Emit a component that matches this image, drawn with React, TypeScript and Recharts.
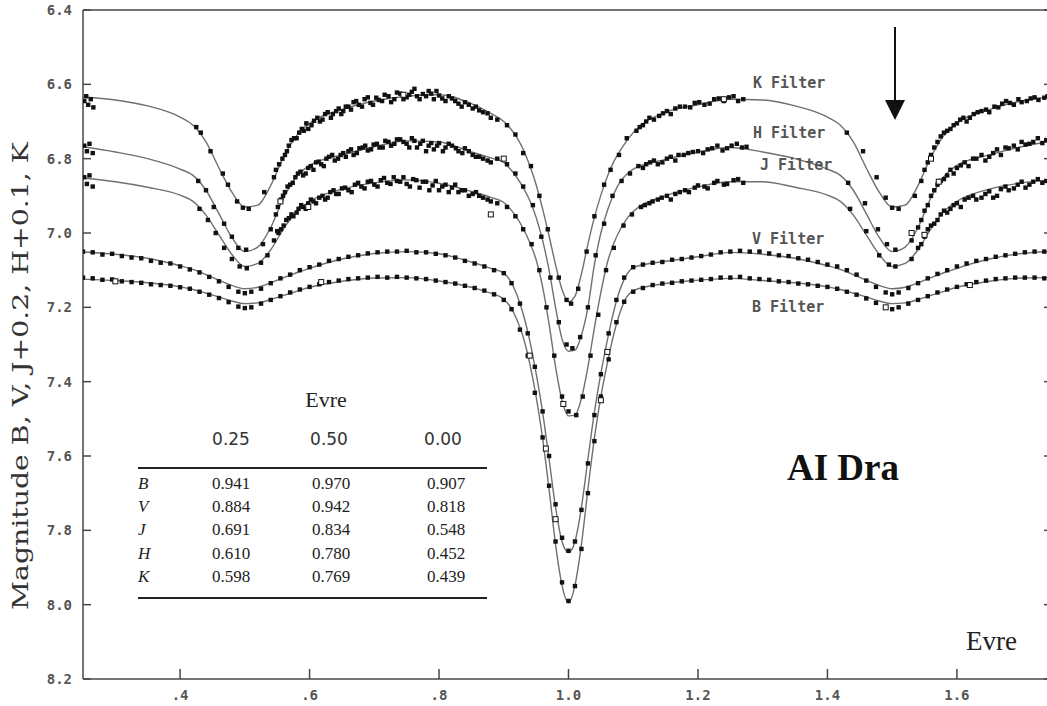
import React from 'react';
import { ComposedChart, Line, Scatter, XAxis, YAxis } from 'recharts';

// ---- axis ticks ----
const xTicks = [0.4, 0.6, 0.8, 1.0, 1.2, 1.4, 1.6];
const xTickLabels = ['.4', '.6', '.8', '1.0', '1.2', '1.4', '1.6'];
const yTicks = [6.4, 6.6, 6.8, 7.0, 7.2, 7.4, 7.6, 7.8, 8.0, 8.2];
const yTickLabels = ['6.4', '6.6', '6.8', '7.0', '7.2', '7.4', '7.6', '7.8', '8.0', '8.2'];

// ---- model light curves (phase grid + magnitude per filter) ----
const phaseGrid = [
  0.25, 0.30, 0.35, 0.40, 0.42, 0.44, 0.46, 0.48, 0.50, 0.52, 0.54, 0.56, 0.58, 0.60,
  0.65, 0.70, 0.75, 0.80, 0.85, 0.88,
  0.90, 0.91, 0.92, 0.93, 0.94, 0.95, 0.96, 0.97, 0.98, 0.99, 1.00,
  1.01, 1.02, 1.03, 1.04, 1.05, 1.06, 1.07, 1.08, 1.09, 1.10,
  1.15, 1.20, 1.25, 1.30, 1.35, 1.40,
  1.42, 1.44, 1.46, 1.48, 1.50, 1.52, 1.54, 1.56, 1.58, 1.60, 1.65, 1.70, 1.75,
];

const kModel = [
  6.634, 6.642, 6.658, 6.688, 6.71, 6.755, 6.825, 6.89, 6.93, 6.925, 6.872, 6.795, 6.738, 6.705,
  6.668, 6.645, 6.632, 6.628, 6.652, 6.678,
  6.70, 6.718, 6.742, 6.775, 6.818, 6.87, 6.935, 7.008, 7.085, 7.152, 7.185,
  7.17, 7.11, 7.03, 6.958, 6.898, 6.848, 6.808, 6.778, 6.752, 6.73,
  6.675, 6.655, 6.64, 6.642, 6.658, 6.688,
  6.71, 6.755, 6.825, 6.89, 6.93, 6.925, 6.872, 6.795, 6.738, 6.705, 6.668, 6.645, 6.632,
];

const hModel = [
  6.768, 6.782, 6.80, 6.828, 6.845, 6.885, 6.948, 7.012, 7.05, 7.038, 6.985, 6.905, 6.848, 6.818,
  6.79, 6.768, 6.752, 6.755, 6.782, 6.798,
  6.81, 6.828, 6.85, 6.878, 6.912, 6.958, 7.02, 7.10, 7.20, 7.285, 7.318,
  7.315, 7.275, 7.20, 7.085, 7.00, 6.94, 6.895, 6.862, 6.842, 6.828,
  6.802, 6.782, 6.77, 6.782, 6.80, 6.828,
  6.845, 6.885, 6.948, 7.012, 7.05, 7.038, 6.985, 6.905, 6.848, 6.818, 6.79, 6.768, 6.752,
];

const jModel = [
  6.852, 6.862, 6.877, 6.898, 6.915, 6.952, 7.005, 7.058, 7.09, 7.082, 7.045, 6.988, 6.942, 6.915,
  6.882, 6.865, 6.857, 6.866, 6.888, 6.904,
  6.918, 6.935, 6.958, 6.988, 7.025, 7.072, 7.145, 7.245, 7.36, 7.45, 7.492,
  7.49, 7.445, 7.36, 7.255, 7.16, 7.08, 7.028, 6.99, 6.962, 6.942,
  6.90, 6.876, 6.862, 6.862, 6.877, 6.898,
  6.915, 6.952, 7.005, 7.058, 7.09, 7.082, 7.045, 6.988, 6.942, 6.915, 6.882, 6.865, 6.857,
];

const vModel = [
  7.051, 7.057, 7.068, 7.088, 7.098, 7.112, 7.127, 7.141, 7.15, 7.146, 7.134, 7.12, 7.107, 7.095,
  7.07, 7.055, 7.05, 7.056, 7.078, 7.095,
  7.108, 7.128, 7.165, 7.218, 7.288, 7.378, 7.482, 7.608, 7.738, 7.83, 7.86,
  7.83, 7.738, 7.608, 7.482, 7.378, 7.288, 7.21, 7.15, 7.112, 7.093,
  7.076, 7.064, 7.052, 7.057, 7.068, 7.088,
  7.098, 7.112, 7.127, 7.141, 7.15, 7.146, 7.134, 7.12, 7.107, 7.095, 7.07, 7.055, 7.05,
];

const bModel = [
  7.124, 7.128, 7.134, 7.145, 7.152, 7.162, 7.172, 7.183, 7.19, 7.188, 7.179, 7.168, 7.157, 7.146,
  7.13, 7.121, 7.12, 7.129, 7.146, 7.162,
  7.178, 7.198, 7.232, 7.28, 7.35, 7.44, 7.552, 7.69, 7.838, 7.948, 7.995,
  7.948, 7.838, 7.69, 7.552, 7.44, 7.35, 7.272, 7.212, 7.172, 7.155,
  7.136, 7.127, 7.122, 7.128, 7.134, 7.145,
  7.152, 7.162, 7.172, 7.183, 7.19, 7.188, 7.179, 7.168, 7.157, 7.146, 7.13, 7.121, 7.12,
];

// ---- observations [phase, magnitude] ----
const kObs = [
  [0.252, 6.645], [0.255, 6.632], [0.258, 6.655], [0.262, 6.64], [0.266, 6.662],
  [0.425, 6.715], [0.432, 6.73], [0.447, 6.78], [0.466, 6.84], [0.474, 6.87], [0.488, 6.915], [0.497, 6.932], [0.506, 6.935],
  [0.53, 6.89], [0.545, 6.85], [0.553, 6.815], [0.565, 6.78], [0.572, 6.75], [0.58, 6.745], [0.588, 6.72], [0.595, 6.705],
  [0.603, 6.71], [0.612, 6.69], [0.62, 6.695], [0.628, 6.675], [0.636, 6.68], [0.645, 6.665], [0.652, 6.672], [0.66, 6.66],
  [0.668, 6.648], [0.676, 6.655], [0.685, 6.64], [0.694, 6.65], [0.703, 6.636], [0.712, 6.645], [0.722, 6.632], [0.731, 6.64],
  [0.74, 6.625], [0.75, 6.635], [0.758, 6.62], [0.766, 6.632], [0.775, 6.626], [0.784, 6.618], [0.792, 6.64], [0.80, 6.63],
  [0.81, 6.645], [0.82, 6.638], [0.83, 6.652], [0.84, 6.648], [0.852, 6.665], [0.862, 6.67], [0.875, 6.678],
  [0.905, 6.71], [0.918, 6.735], [0.93, 6.785], [0.942, 6.82], [0.955, 6.9], [0.968, 6.99], [0.985, 7.12], [0.997, 7.18],
  [1.004, 7.19], [1.015, 7.15], [1.028, 7.05], [1.04, 6.955], [1.055, 6.87], [1.065, 6.83], [1.078, 6.79], [1.09, 6.745],
  [1.105, 6.725], [1.115, 6.71], [1.125, 6.69], [1.14, 6.685], [1.152, 6.672], [1.165, 6.665], [1.18, 6.66], [1.195, 6.65],
  [1.21, 6.655], [1.225, 6.64], [1.24, 6.645], [1.255, 6.632], [1.27, 6.64],
  [1.43, 6.73], [1.455, 6.78], [1.476, 6.85], [1.49, 6.905], [1.5, 6.932], [1.51, 6.935],
  [1.535, 6.9], [1.545, 6.86], [1.555, 6.81], [1.565, 6.77], [1.575, 6.74], [1.585, 6.725], [1.595, 6.71], [1.61, 6.69],
  [1.62, 6.69], [1.632, 6.675], [1.645, 6.668], [1.658, 6.66], [1.67, 6.652], [1.682, 6.65], [1.695, 6.64], [1.708, 6.645],
  [1.72, 6.635], [1.735, 6.636],
];
const kObsDense = [
  [0.548, 6.83], [0.558, 6.80], [0.562, 6.79], [0.568, 6.765], [0.576, 6.745], [0.584, 6.73], [0.591, 6.725], [0.598, 6.72],
  [0.607, 6.698], [0.616, 6.70], [0.624, 6.68], [0.633, 6.69], [0.641, 6.672], [0.649, 6.68], [0.656, 6.66], [0.664, 6.668],
  [0.672, 6.645], [0.681, 6.66], [0.69, 6.635], [0.698, 6.655], [0.707, 6.642], [0.716, 6.628], [0.726, 6.648], [0.735, 6.622],
  [0.745, 6.64], [0.754, 6.628], [0.762, 6.612], [0.77, 6.64], [0.78, 6.632], [0.788, 6.625], [0.796, 6.618], [0.805, 6.638],
  [0.815, 6.632], [0.825, 6.645], [0.835, 6.66], [0.846, 6.655], [0.857, 6.66], [0.868, 6.675], [0.88, 6.69], [0.89, 6.695],
  [1.11, 6.715], [1.12, 6.70], [1.132, 6.695], [1.146, 6.678], [1.158, 6.68], [1.172, 6.66], [1.188, 6.662], [1.202, 6.648],
  [1.218, 6.652], [1.232, 6.638], [1.248, 6.635], [1.262, 6.645],
  [1.55, 6.83], [1.56, 6.79], [1.57, 6.755], [1.58, 6.73], [1.59, 6.72], [1.60, 6.705], [1.605, 6.695], [1.615, 6.70],
  [1.626, 6.68], [1.638, 6.672], [1.65, 6.675], [1.664, 6.662], [1.676, 6.645], [1.688, 6.655], [1.70, 6.648], [1.714, 6.638],
  [1.726, 6.642], [1.74, 6.632],
];

const hObs = [
  [0.252, 6.765], [0.256, 6.78], [0.26, 6.76], [0.265, 6.785],
  [0.428, 6.86], [0.44, 6.885], [0.452, 6.93], [0.468, 6.975], [0.48, 7.01], [0.49, 7.04], [0.502, 7.045],
  [0.528, 7.03], [0.54, 6.99], [0.548, 6.95], [0.556, 6.91], [0.562, 6.89], [0.57, 6.87], [0.578, 6.85], [0.586, 6.835],
  [0.594, 6.84], [0.602, 6.82], [0.61, 6.81], [0.618, 6.815], [0.626, 6.80], [0.635, 6.79], [0.644, 6.80], [0.652, 6.785],
  [0.66, 6.78], [0.668, 6.79], [0.677, 6.772], [0.686, 6.765], [0.695, 6.775], [0.704, 6.76], [0.713, 6.77], [0.722, 6.755],
  [0.731, 6.76], [0.74, 6.748], [0.75, 6.76], [0.758, 6.745], [0.766, 6.77], [0.775, 6.752], [0.784, 6.765], [0.792, 6.775],
  [0.80, 6.758], [0.81, 6.77], [0.82, 6.765], [0.83, 6.78], [0.84, 6.772], [0.852, 6.79], [0.862, 6.795], [0.875, 6.805],
  [0.905, 6.815], [0.918, 6.84], [0.93, 6.875], [0.945, 6.925], [0.958, 7.01], [0.972, 7.12], [0.985, 7.24], [0.997, 7.30],
  [1.006, 7.31], [1.018, 7.28], [1.03, 7.20], [1.042, 7.06], [1.055, 6.975], [1.068, 6.90], [1.082, 6.86], [1.095, 6.84],
  [1.108, 6.82], [1.12, 6.815], [1.132, 6.805], [1.145, 6.81], [1.158, 6.795], [1.17, 6.79], [1.185, 6.785], [1.20, 6.78],
  [1.215, 6.775], [1.23, 6.765], [1.245, 6.772], [1.26, 6.76], [1.275, 6.768],
  [1.432, 6.865], [1.458, 6.92], [1.478, 6.99], [1.492, 7.03], [1.505, 7.045],
  [1.53, 7.02], [1.54, 6.985], [1.55, 6.94], [1.56, 6.90], [1.57, 6.87], [1.58, 6.855], [1.59, 6.83], [1.60, 6.825],
  [1.612, 6.81], [1.625, 6.80], [1.638, 6.79], [1.65, 6.795], [1.662, 6.775], [1.675, 6.77], [1.688, 6.765], [1.70, 6.755],
  [1.712, 6.76], [1.725, 6.745], [1.738, 6.75],
];
const hObsDense = [
  [0.551, 6.93], [0.559, 6.90], [0.566, 6.875], [0.574, 6.865], [0.582, 6.84], [0.59, 6.845], [0.598, 6.825], [0.606, 6.83],
  [0.614, 6.808], [0.622, 6.82], [0.63, 6.795], [0.639, 6.805], [0.648, 6.79], [0.656, 6.795], [0.664, 6.775], [0.673, 6.785],
  [0.682, 6.77], [0.69, 6.778], [0.699, 6.762], [0.708, 6.77], [0.717, 6.752], [0.726, 6.765], [0.735, 6.748], [0.745, 6.755],
  [0.754, 6.77], [0.762, 6.752], [0.771, 6.76], [0.78, 6.78], [0.788, 6.758], [0.797, 6.765], [0.806, 6.78], [0.815, 6.76],
  [0.826, 6.772], [0.836, 6.785], [0.846, 6.78], [0.857, 6.795], [0.868, 6.80], [0.88, 6.81], [0.89, 6.80],
  [1.115, 6.825], [1.126, 6.81], [1.138, 6.815], [1.152, 6.80], [1.165, 6.805], [1.178, 6.79], [1.192, 6.782], [1.208, 6.785],
  [1.222, 6.772], [1.238, 6.778], [1.252, 6.765], [1.268, 6.77],
  [1.545, 6.965], [1.555, 6.925], [1.565, 6.885], [1.575, 6.86], [1.585, 6.845], [1.595, 6.84], [1.606, 6.818], [1.618, 6.82],
  [1.63, 6.80], [1.644, 6.805], [1.656, 6.785], [1.668, 6.79], [1.68, 6.772], [1.694, 6.775], [1.706, 6.762], [1.718, 6.755],
  [1.732, 6.758],
];

const jObs = [
  [0.252, 6.85], [0.256, 6.868], [0.26, 6.845], [0.265, 6.875],
  [0.43, 6.935], [0.443, 6.965], [0.455, 7.00], [0.468, 7.04], [0.48, 7.07], [0.492, 7.09], [0.503, 7.095],
  [0.525, 7.08], [0.535, 7.06], [0.545, 7.02], [0.552, 7.00], [0.56, 6.98], [0.568, 6.96], [0.575, 6.955], [0.583, 6.935],
  [0.59, 6.93], [0.598, 6.92], [0.606, 6.915], [0.615, 6.905], [0.624, 6.91], [0.632, 6.89], [0.641, 6.895], [0.65, 6.88],
  [0.66, 6.885], [0.67, 6.87], [0.68, 6.875], [0.69, 6.862], [0.70, 6.87], [0.71, 6.858], [0.72, 6.865], [0.73, 6.85],
  [0.74, 6.862], [0.75, 6.868], [0.76, 6.855], [0.77, 6.878], [0.78, 6.862], [0.79, 6.872], [0.80, 6.885], [0.81, 6.87],
  [0.82, 6.878], [0.83, 6.89], [0.84, 6.885], [0.852, 6.895], [0.862, 6.90], [0.875, 6.91],
  [0.905, 6.93], [0.918, 6.955], [0.93, 6.99], [0.943, 7.03], [0.955, 7.10], [0.966, 7.20], [0.978, 7.33], [0.99, 7.44],
  [1.0, 7.48], [1.012, 7.49], [1.022, 7.44], [1.034, 7.33], [1.046, 7.22], [1.058, 7.10], [1.07, 7.04], [1.085, 6.98],
  [1.098, 6.95], [1.112, 6.93], [1.125, 6.92], [1.138, 6.91], [1.152, 6.90], [1.165, 6.895], [1.18, 6.885], [1.195, 6.878],
  [1.21, 6.875], [1.225, 6.865], [1.24, 6.87], [1.255, 6.858], [1.27, 6.865],
  [1.435, 6.935], [1.46, 6.995], [1.48, 7.06], [1.495, 7.085], [1.505, 7.09],
  [1.53, 7.07], [1.54, 7.04], [1.55, 7.01], [1.56, 6.98], [1.57, 6.965], [1.58, 6.94], [1.59, 6.935], [1.60, 6.92],
  [1.612, 6.91], [1.625, 6.90], [1.638, 6.905], [1.65, 6.888], [1.662, 6.90], [1.675, 6.875], [1.688, 6.88], [1.70, 6.862],
  [1.712, 6.87], [1.725, 6.855], [1.738, 6.86],
];
const jObsDense = [
  [0.55, 6.995], [0.556, 6.99], [0.564, 6.965], [0.572, 6.95], [0.58, 6.945], [0.587, 6.925], [0.594, 6.935], [0.602, 6.91],
  [0.61, 6.92], [0.62, 6.90], [0.628, 6.905], [0.637, 6.885], [0.645, 6.895], [0.655, 6.878], [0.665, 6.89], [0.675, 6.865],
  [0.685, 6.88], [0.695, 6.86], [0.705, 6.875], [0.715, 6.852], [0.725, 6.868], [0.735, 6.86], [0.745, 6.85], [0.755, 6.875],
  [0.765, 6.858], [0.775, 6.862], [0.785, 6.885], [0.795, 6.86], [0.805, 6.875], [0.815, 6.89], [0.825, 6.87], [0.835, 6.885],
  [0.846, 6.90], [0.857, 6.89], [0.868, 6.905], [0.88, 6.915], [0.89, 6.92],
  [1.118, 6.925], [1.13, 6.915], [1.144, 6.905], [1.158, 6.91], [1.172, 6.89], [1.186, 6.89], [1.20, 6.872], [1.215, 6.88],
  [1.23, 6.86], [1.245, 6.868], [1.262, 6.855],
  [1.545, 7.03], [1.555, 6.99], [1.565, 6.975], [1.575, 6.95], [1.585, 6.945], [1.595, 6.925], [1.606, 6.93], [1.618, 6.905],
  [1.63, 6.91], [1.644, 6.895], [1.656, 6.905], [1.668, 6.882], [1.68, 6.885], [1.694, 6.87], [1.706, 6.878], [1.718, 6.862],
  [1.732, 6.865],
];

const vObs = [
  [0.25, 7.05], [0.265, 7.052], [0.28, 7.058], [0.295, 7.056], [0.31, 7.062], [0.325, 7.066], [0.34, 7.068], [0.355, 7.075],
  [0.37, 7.08], [0.385, 7.082], [0.40, 7.09], [0.415, 7.098], [0.43, 7.106], [0.445, 7.118], [0.46, 7.13], [0.475, 7.145],
  [0.49, 7.158], [0.50, 7.162], [0.51, 7.158], [0.525, 7.15], [0.54, 7.135], [0.555, 7.122], [0.57, 7.112], [0.585, 7.10],
  [0.60, 7.092], [0.615, 7.085], [0.63, 7.075], [0.645, 7.07], [0.66, 7.064], [0.675, 7.06], [0.69, 7.055], [0.705, 7.052],
  [0.72, 7.05], [0.735, 7.05], [0.75, 7.048], [0.765, 7.052], [0.78, 7.052], [0.795, 7.056], [0.81, 7.06], [0.825, 7.066],
  [0.84, 7.075], [0.855, 7.082], [0.87, 7.09], [0.885, 7.10], [0.90, 7.108], [0.912, 7.135], [0.925, 7.19], [0.937, 7.27],
  [0.948, 7.36], [0.96, 7.48], [0.97, 7.60], [0.98, 7.73], [0.99, 7.82], [1.0, 7.855], [1.01, 7.83], [1.02, 7.745],
  [1.03, 7.62], [1.04, 7.49], [1.05, 7.38], [1.062, 7.27], [1.074, 7.18], [1.086, 7.12], [1.10, 7.092], [1.115, 7.085],
  [1.13, 7.08], [1.145, 7.078], [1.16, 7.072], [1.175, 7.07], [1.19, 7.066], [1.205, 7.062], [1.22, 7.058], [1.235, 7.052],
  [1.25, 7.05], [1.265, 7.048], [1.28, 7.05], [1.295, 7.05], [1.31, 7.055], [1.325, 7.06], [1.34, 7.062], [1.355, 7.068],
  [1.37, 7.072], [1.385, 7.078], [1.40, 7.085], [1.415, 7.09], [1.43, 7.10], [1.445, 7.112], [1.46, 7.128], [1.475, 7.145],
  [1.49, 7.16], [1.50, 7.165], [1.51, 7.16], [1.525, 7.148], [1.54, 7.135], [1.555, 7.122], [1.57, 7.11], [1.585, 7.10],
  [1.60, 7.09], [1.615, 7.082], [1.63, 7.075], [1.645, 7.07], [1.66, 7.064], [1.675, 7.06], [1.69, 7.056], [1.705, 7.052],
  [1.72, 7.05], [1.735, 7.05],
];

const bObs = [
  [0.25, 7.12], [0.265, 7.122], [0.28, 7.126], [0.295, 7.125], [0.31, 7.13], [0.325, 7.132], [0.34, 7.134], [0.355, 7.138],
  [0.37, 7.14], [0.385, 7.142], [0.40, 7.146], [0.415, 7.15], [0.43, 7.158], [0.445, 7.166], [0.46, 7.175], [0.475, 7.186],
  [0.49, 7.198], [0.50, 7.202], [0.51, 7.20], [0.525, 7.19], [0.54, 7.18], [0.555, 7.17], [0.57, 7.16], [0.585, 7.152],
  [0.60, 7.145], [0.615, 7.138], [0.63, 7.132], [0.645, 7.128], [0.66, 7.124], [0.675, 7.122], [0.69, 7.12], [0.705, 7.118],
  [0.72, 7.12], [0.735, 7.118], [0.75, 7.12], [0.765, 7.122], [0.78, 7.124], [0.795, 7.128], [0.81, 7.132], [0.825, 7.136],
  [0.84, 7.142], [0.855, 7.148], [0.87, 7.155], [0.885, 7.165], [0.90, 7.18], [0.912, 7.205], [0.925, 7.26], [0.937, 7.33],
  [0.948, 7.43], [0.96, 7.55], [0.97, 7.68], [0.98, 7.83], [0.99, 7.94], [1.0, 7.99], [1.01, 7.95], [1.02, 7.85],
  [1.03, 7.70], [1.04, 7.56], [1.05, 7.44], [1.062, 7.34], [1.074, 7.24], [1.086, 7.185], [1.10, 7.158], [1.115, 7.148],
  [1.13, 7.14], [1.145, 7.136], [1.16, 7.134], [1.175, 7.13], [1.19, 7.128], [1.205, 7.126], [1.22, 7.124], [1.235, 7.12],
  [1.25, 7.12], [1.265, 7.118], [1.28, 7.122], [1.295, 7.124], [1.31, 7.126], [1.325, 7.13], [1.34, 7.132], [1.355, 7.136],
  [1.37, 7.138], [1.385, 7.142], [1.40, 7.145], [1.415, 7.15], [1.43, 7.158], [1.445, 7.166], [1.46, 7.176], [1.475, 7.188],
  [1.49, 7.20], [1.50, 7.205], [1.51, 7.20], [1.525, 7.19], [1.54, 7.18], [1.555, 7.17], [1.57, 7.16], [1.585, 7.152],
  [1.60, 7.145], [1.615, 7.138], [1.63, 7.132], [1.645, 7.128], [1.66, 7.124], [1.675, 7.122], [1.69, 7.12], [1.705, 7.12],
  [1.72, 7.12], [1.735, 7.122],
];

// a few observations plotted as open squares
const openObs = [
  [0.745, 6.628], [1.24, 6.64], [1.56, 6.80], [0.555, 6.915], [0.90, 6.80], [1.53, 7.00], [1.572, 6.862],
  [0.598, 6.93], [0.88, 6.95], [0.992, 7.46], [1.55, 7.005], [0.94, 7.33], [0.965, 7.58], [0.98, 7.77],
  [1.05, 7.45], [1.06, 7.32], [0.618, 7.132], [0.30, 7.13], [1.49, 7.20], [1.62, 7.14],
];

// ---- inset table ----
const tableCols = ['0.25', '0.50', '0.00'];
const tableRows = ['B', 'V', 'J', 'H', 'K'];
const tableVals = [
  ['0.941', '0.970', '0.907'],
  ['0.884', '0.942', '0.818'],
  ['0.691', '0.834', '0.548'],
  ['0.610', '0.780', '0.452'],
  ['0.598', '0.769', '0.439'],
];

const filterLabels = ['K Filter', 'H Filter', 'J Filter', 'V Filter', 'B Filter'];

const toModel = (vals: number[]) => phaseGrid.map((p, i) => ({ p, m: vals[i] }));
const toPts = (pts: number[][]) => pts.map(([p, m]) => ({ p, m }));

const models = [kModel, hModel, jModel, vModel, bModel].map(toModel);
const observations = [
  kObs.concat(kObsDense),
  hObs.concat(hObsDense),
  jObs.concat(jObsDense),
  vObs,
  bObs,
].map(toPts);

const AXIS = '#474747';
const MONO = '"DejaVu Sans Mono", monospace';
const SERIF = '"Liberation Serif", "Times New Roman", serif';

const BottomTick = (props: any) => {
  const { x, y, payload } = props;
  const label = xTickLabels[xTicks.indexOf(payload.value)];
  return (
    <g>
      <line x1={x} y1={y} x2={x} y2={y - 10} stroke={AXIS} strokeWidth={1.5} />
      <text x={x} y={y + 21} textAnchor="middle" fontFamily={MONO} fontSize={14} fontWeight="bold" fill="#555">
        {label}
      </text>
    </g>
  );
};

const TopTick = (props: any) => {
  const { x, y } = props;
  return <line x1={x} y1={y} x2={x} y2={y + 10} stroke={AXIS} strokeWidth={1.5} />;
};

const LeftTick = (props: any) => {
  const { x, y, payload } = props;
  const label = yTickLabels[yTicks.findIndex((t) => Math.abs(t - payload.value) < 1e-6)];
  return (
    <g>
      <line x1={x} y1={y} x2={x + 8} y2={y} stroke={AXIS} strokeWidth={1.5} />
      <text x={72} y={y + 5} textAnchor="end" fontFamily={MONO} fontSize={14} fontWeight="bold" fill="#555">
        {label}
      </text>
    </g>
  );
};

const RightTick = (props: any) => {
  const { x, y } = props;
  return <line x1={x} y1={y} x2={x - 10} y2={y} stroke={AXIS} strokeWidth={1.5} />;
};

const Dot = (props: any) => {
  const { cx, cy } = props;
  return <rect x={cx - 2.2} y={cy - 2.2} width={4.4} height={4.4} fill="#111" />;
};

const OpenDot = (props: any) => {
  const { cx, cy } = props;
  return <rect x={cx - 2.5} y={cy - 2.5} width={5} height={5} fill="#fff" stroke="#111" strokeWidth={1} />;
};

const App: React.FC = () => {
  return (
    <div style={{ position: 'fixed', left: 0, top: 0, width: 1047, height: 706, overflow: 'hidden', background: '#fff' }}>
      <ComposedChart width={1064} height={706} margin={{ top: 0, right: 0, bottom: 0, left: 0 }}>
        <XAxis
          xAxisId="b"
          dataKey="p"
          type="number"
          domain={[0.25, 1.75]}
          ticks={xTicks}
          interval={0}
          allowDataOverflow
          height={27}
          stroke={AXIS}
          strokeWidth={1.5}
          tickLine={false}
          tickSize={0}
          tickMargin={0}
          tick={<BottomTick />}
        />
        <XAxis
          xAxisId="t"
          orientation="top"
          type="number"
          domain={[0.25, 1.75]}
          ticks={xTicks}
          interval={0}
          allowDataOverflow
          height={10}
          stroke={AXIS}
          strokeWidth={1.5}
          tickLine={false}
          tickSize={0}
          tickMargin={0}
          tick={<TopTick />}
        />
        <YAxis
          yAxisId="l"
          dataKey="m"
          type="number"
          reversed
          domain={[6.4, 8.2]}
          ticks={yTicks}
          interval={0}
          allowDataOverflow
          width={83}
          stroke={AXIS}
          strokeWidth={1.5}
          tickLine={false}
          tickSize={0}
          tickMargin={0}
          tick={<LeftTick />}
        />
        <YAxis
          yAxisId="r"
          orientation="right"
          type="number"
          reversed
          domain={[6.4, 8.2]}
          ticks={yTicks}
          interval={0}
          allowDataOverflow
          width={10}
          stroke={AXIS}
          strokeWidth={1.5}
          tickLine={false}
          tickSize={0}
          tickMargin={0}
          tick={<RightTick />}
        />

        {models.map((d, i) => (
          <Line
            key={'model' + i}
            xAxisId="b"
            yAxisId="l"
            data={d}
            dataKey="m"
            type="monotone"
            stroke="#707070"
            strokeWidth={1.4}
            dot={false}
            activeDot={false}
            isAnimationActive={false}
          />
        ))}
        {observations.map((d, i) => (
          <Scatter
            key={'obs' + i}
            xAxisId="b"
            yAxisId="l"
            data={d}
            dataKey="m"
            shape={<Dot />}
            isAnimationActive={false}
          />
        ))}
        <Scatter
          xAxisId="b"
          yAxisId="l"
          data={toPts(openObs)}
          dataKey="m"
          shape={<OpenDot />}
          isAnimationActive={false}
        />
      </ComposedChart>

      <svg width={1047} height={706} style={{ position: 'absolute', left: 0, top: 0, pointerEvents: 'none' }}>
        <text
          transform="translate(28,376) rotate(-90)"
          textAnchor="middle"
          fontFamily='"DejaVu Serif", serif'
          fontSize={23}
          fill="#333"
          textLength={468}
          lengthAdjust="spacingAndGlyphs"
        >
          Magnitude B, V, J+0.2, H+0.1, K
        </text>

        {/* filter labels */}
        {filterLabels.map((t, i) => (
          <text
            key={t}
            x={[753, 753, 760, 752, 752][i]}
            y={[88, 138, 170, 244, 312][i]}
            fontFamily={MONO}
            fontSize={15}
            fontWeight="bold"
            fill="#555"
          >
            {t}
          </text>
        ))}

        {/* arrow marking phase 1.5 */}
        <line x1={895} y1={27} x2={895} y2={102} stroke="#111" strokeWidth={2} />
        <polygon points="885,100 905,100 895,120" fill="#111" />

        <text x={787} y={480} fontFamily={SERIF} fontSize={37} fontWeight="bold" fill="#111">
          AI Dra
        </text>
        <text x={966} y={650} fontFamily={SERIF} fontSize={27} fill="#222">
          Evre
        </text>

        {/* inset table */}
        <text x={326} y={407} textAnchor="middle" fontFamily={SERIF} fontSize={22} fill="#222">
          Evre
        </text>
        {tableCols.map((c, i) => (
          <text
            key={c}
            x={[231, 329, 443][i]}
            y={445}
            textAnchor="middle"
            fontFamily='"DejaVu Sans", sans-serif'
            fontSize={17}
            fill="#333"
          >
            {c}
          </text>
        ))}
        <line x1={138} y1={468} x2={487} y2={468} stroke="#222" strokeWidth={2} />
        {tableRows.map((r, i) => (
          <g key={r}>
            <text x={138} y={489 + i * 23.2} fontFamily={SERIF} fontStyle="italic" fontSize={17} fill="#222">
              {r}
            </text>
            {tableVals[i].map((v, j) => (
              <text
                key={j}
                x={[231, 331, 446][j]}
                y={489 + i * 23.2}
                textAnchor="middle"
                fontFamily={SERIF}
                fontSize={17}
                fill="#222"
              >
                {v}
              </text>
            ))}
          </g>
        ))}
        <line x1={138} y1={598} x2={487} y2={598} stroke="#222" strokeWidth={2} />
      </svg>
    </div>
  );
};

export default App;
